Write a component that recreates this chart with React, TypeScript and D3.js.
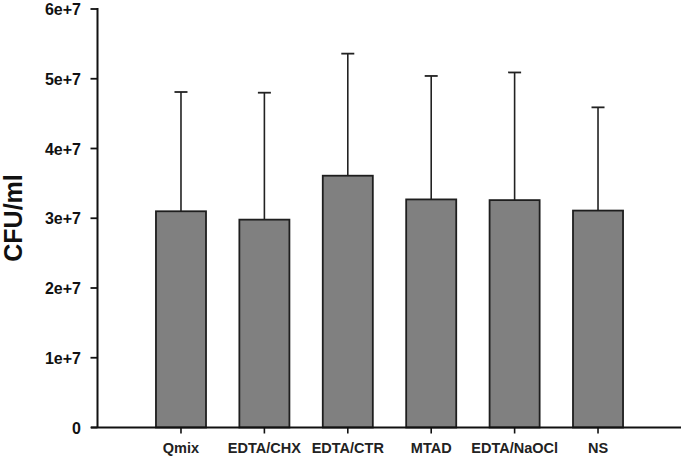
import React from "react";
import * as d3 from "d3";

const categories = ["Qmix", "EDTA/CHX", "EDTA/CTR", "MTAD", "EDTA/NaOCl", "NS"];
const means = [3.1e7, 2.98e7, 3.61e7, 3.27e7, 3.26e7, 3.11e7];
const errors = [1.71e7, 1.82e7, 1.75e7, 1.77e7, 1.83e7, 1.48e7];
const yTicks = [0, 1e7, 2e7, 3e7, 4e7, 5e7, 6e7];
const yTickLabels = ["0", "1e+7", "2e+7", "3e+7", "4e+7", "5e+7", "6e+7"];

const W = 685;
const H = 457;

export default function App() {
  const y = d3.scaleLinear().domain([0, 6e7]).range([427.5, 9]);
  const x = d3
    .scaleBand<string>()
    .domain(categories)
    .range([122.6, 656.4])
    .paddingInner(0.4)
    .paddingOuter(0.4);
  const axisX = 97.5;
  const font = "'Liberation Sans', Arial, sans-serif";
  return (
    <svg
      width={W}
      height={H}
      style={{ position: "absolute", left: 0, top: 0, background: "#fff" }}
    >
      {/* bars */}
      {categories.map((c, i) => {
        const cx = x(c)! + x.bandwidth() / 2;
        const top = y(means[i] + errors[i]);
        return (
          <g key={c}>
            <line x1={cx} x2={cx} y1={y(means[i])} y2={top} stroke="#222" strokeWidth={1.6} />
            <line x1={cx - 6.5} x2={cx + 6.5} y1={top} y2={top} stroke="#222" strokeWidth={1.8} />
            <rect
              x={x(c)!}
              y={y(means[i])}
              width={x.bandwidth()}
              height={y(0) - y(means[i])}
              fill="#808080"
              stroke="#1e1e1e"
              strokeWidth={1.8}
            />
          </g>
        );
      })}
      {/* y axis */}
      <line x1={axisX} x2={axisX} y1={y(6e7) - 1} y2={y(0)} stroke="#111" strokeWidth={2} />
      {yTicks.map((t, i) => (
        <g key={t}>
          <line x1={axisX - 7} x2={axisX} y1={y(t)} y2={y(t)} stroke="#111" strokeWidth={1.8} />
          <text
            x={81}
            y={y(t) + 6}
            textAnchor="end"
            fontFamily={font}
            fontWeight="bold"
            fontSize={16}
            fill="#111"
          >
            {yTickLabels[i]}
          </text>
        </g>
      ))}
      {/* x axis */}
      <line x1={91} x2={681} y1={y(0)} y2={y(0)} stroke="#111" strokeWidth={2} />
      {categories.map((c) => {
        const cx = x(c)! + x.bandwidth() / 2;
        return (
          <g key={c}>
            <line x1={cx} x2={cx} y1={y(0)} y2={y(0) + 6} stroke="#111" strokeWidth={1.6} />
            <text
              x={cx}
              y={452.5}
              textAnchor="middle"
              fontFamily={font}
              fontWeight="bold"
              fontSize={14.5}
              fill="#222"
            >
              {c}
            </text>
          </g>
        );
      })}
      <text
        transform={`translate(22,218) rotate(-90)`}
        textAnchor="middle"
        fontFamily={font}
        fontWeight="bold"
        fontSize={25}
        fill="#111"
      >
        CFU/ml
      </text>
    </svg>
  );
}
